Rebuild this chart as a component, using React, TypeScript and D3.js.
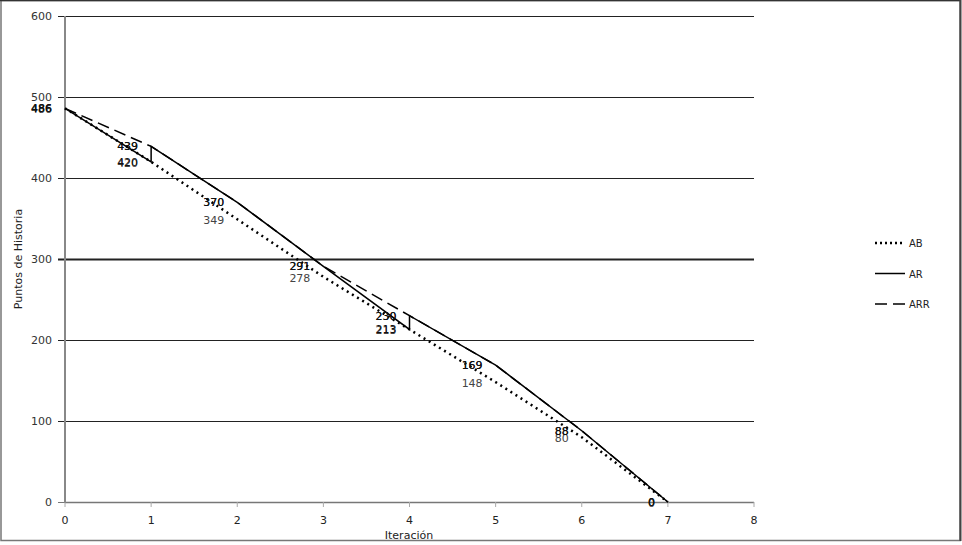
import React from "react";
import * as d3 from "d3";

const xTicks = [0, 1, 2, 3, 4, 5, 6, 7, 8];
const yTicks = [0, 100, 200, 300, 400, 500, 600];

// AB: planned
const abX = [0, 1, 2, 3, 4, 5, 6, 7];
const abY = [486, 420, 349, 278, 213, 148, 80, 0];
// AR: actual (with scope jumps)
const arX = [0, 1, 1, 2, 3, 4, 4, 5, 6, 7];
const arY = [486, 420, 439, 370, 291, 213, 230, 169, 88, 0];
// ARR: re-estimated
const arrX = [0, 1, 2, 3, 4, 5, 6, 7];
const arrY = [486, 439, 370, 291, 230, 169, 88, 0];

const seriesNames = ["AB", "AR", "ARR"];

const W = 962;
const H = 545;
const FONT = "'DejaVu Sans', Verdana, sans-serif";

export default function App() {
  const x = d3.scaleLinear().domain([0, 8]).range([65, 754]);
  const y = d3.scaleLinear().domain([0, 600]).range([502, 16]);
  const line = d3
    .line<[number, number]>()
    .x((d) => x(d[0]))
    .y((d) => y(d[1]));

  const ab: [number, number][] = abX.map((v, i) => [v, abY[i]]);
  const ar: [number, number][] = arX.map((v, i) => [v, arY[i]]);
  const arr: [number, number][] = arrX.map((v, i) => [v, arrY[i]]);

  const styles = [
    { color: "#000", width: 2.5, dash: "2,4" },
    { color: "#000", width: 1.5, dash: "" },
    { color: "#000", width: 1.5, dash: "12,6" },
  ];

  const labelFor = (
    pts: [number, number][],
    color: string,
    key: string,
    dy: number
  ) =>
    pts.map((p, i) => (
      <text
        key={key + i}
        x={x(p[0]) - 13}
        y={y(p[1]) + 4 + dy}
        textAnchor="end"
        fontSize={11}
        fontFamily={FONT}
        fill={color}
      >
        {p[1]}
      </text>
    ));

  return (
    <svg
      width={W}
      height={H}
      style={{ position: "absolute", left: 0, top: 0, background: "#fff" }}
    >
      <rect x={1} y={0.5} width={959} height={540} fill="#fff" stroke="#777" strokeWidth={1.5} />
      <line x1={0} x2={961} y1={0.5} y2={0.5} stroke="#333" strokeWidth={1.5} />
      <line x1={960.5} x2={960.5} y1={0} y2={541} stroke="#444" strokeWidth={2} />

      {/* grid */}
      {yTicks.map((t) => (
        <line
          key={"g" + t}
          x1={58}
          x2={754}
          y1={Math.round(y(t)) + 0.5}
          y2={Math.round(y(t)) + 0.5}
          stroke={t === 0 ? "#777" : "#222"}
          strokeWidth={t === 300 ? 2 : 1}
        />
      ))}
      {yTicks.map((t) => (
        <text
          key={"yl" + t}
          x={52}
          y={y(t) + 4}
          textAnchor="end"
          fontSize={11}
          fontFamily={FONT}
          fill="#333"
        >
          {t}
        </text>
      ))}
      {/* x axis */}
      <line x1={65} x2={754} y1={502.5} y2={502.5} stroke="#777" strokeWidth={1.5} />
      {xTicks.map((t) => (
        <g key={"xt" + t}>
          <line x1={x(t)} x2={x(t)} y1={502} y2={507} stroke="#aaa" strokeWidth={1} />
          <text
            x={x(t)}
            y={524}
            textAnchor="middle"
            fontSize={11}
            fontFamily={FONT}
            fill="#222"
          >
            {t}
          </text>
        </g>
      ))}
      <line x1={65} x2={65} y1={16} y2={503} stroke="#888" strokeWidth={2} />

      {/* titles */}
      <text x={409} y={539} textAnchor="middle" fontSize={11} fontFamily={FONT} fill="#222">
        Iteración
      </text>
      <text
        transform={`translate(22,259) rotate(-90)`}
        textAnchor="middle"
        fontSize={11}
        fontFamily={FONT}
        fill="#222"
      >
        Puntos de Historia
      </text>

      {/* series */}
      <path d={line(ab) || ""} fill="none" stroke={styles[0].color} strokeWidth={styles[0].width} strokeDasharray={styles[0].dash} />
      <path d={line(arr) || ""} fill="none" stroke={styles[2].color} strokeWidth={styles[2].width} strokeDasharray={styles[2].dash} />
      <path d={line(ar) || ""} fill="none" stroke={styles[1].color} strokeWidth={styles[1].width} />

      {/* labels */}
      {labelFor(ab, "#444", "ab", 1)}
      {labelFor(ar, "#111", "ar", 0)}
      {labelFor(arr, "#111", "arr", 0)}

      {/* legend */}
      {seriesNames.map((n, i) => {
        const ly = 243 + i * 30.5;
        return (
          <g key={n}>
            <line
              x1={875}
              x2={905}
              y1={ly}
              y2={ly}
              stroke={styles[i].color}
              strokeWidth={styles[i].width}
              strokeDasharray={i === 0 ? "2,3" : i === 2 ? "12,6" : ""}
            />
            <text x={909} y={ly + 4} fontSize={10} fontFamily={FONT} fill="#222">
              {n}
            </text>
          </g>
        );
      })}
    </svg>
  );
}
